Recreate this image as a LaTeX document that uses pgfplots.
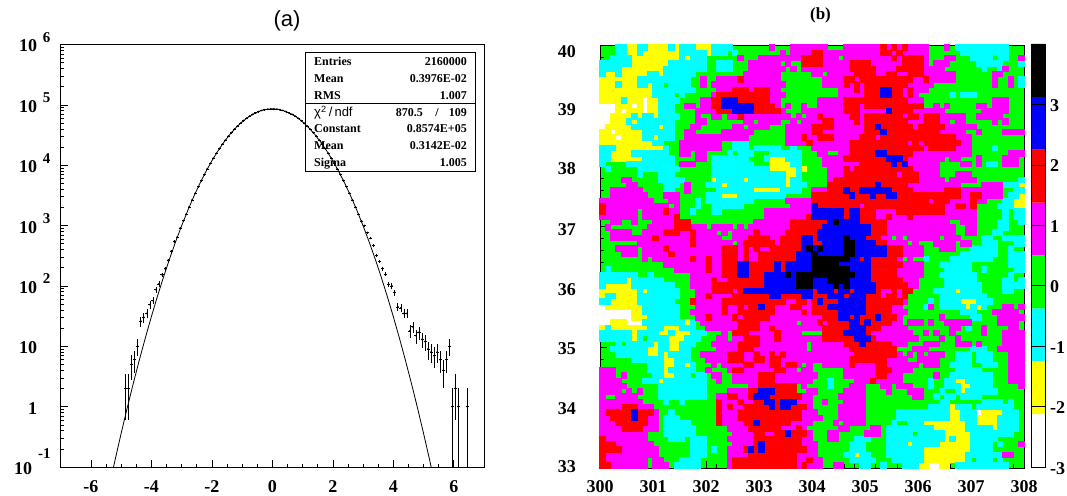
\documentclass[border=0pt]{standalone}
\usepackage{pgfplots}
\pgfplotsset{compat=1.18}
\usepackage{fontspec}
\setmainfont{Liberation Serif}
\newfontfamily\thinf{Liberation Sans}
\definecolor{cW}{rgb}{1,1,1}
\definecolor{cY}{rgb}{1,1,0}
\definecolor{cC}{rgb}{0,1,1}
\definecolor{cG}{rgb}{0,1,0}
\definecolor{cM}{rgb}{1,0,1}
\definecolor{cR}{rgb}{1,0,0}
\definecolor{cB}{rgb}{0,0,1}
\definecolor{cK}{rgb}{0,0,0}
\newcount\cx \newcount\cy
\cy=79
\expandafter\def\csname L0\endcsname{}
\expandafter\def\csname L1\endcsname{}
\expandafter\def\csname L2\endcsname{}
\expandafter\def\csname L4\endcsname{}
\expandafter\def\csname L5\endcsname{}
\expandafter\def\csname L6\endcsname{}
\expandafter\def\csname L7\endcsname{}
\def\addcell#1{\expandafter\xdef\csname L#1\endcsname{\csname L#1\endcsname(\the\numexpr30005+10*\cx\relax e-2,\the\numexpr3304375+8750*\cy\relax e-5)}}
\def\scan#1{\ifx#1\relax\else\ifnum#1=3 \else\addcell{#1}\fi\advance\cx by 1 \expandafter\scan\fi}
\def\R#1#2{\cx=0 \scan#1\relax\cx=40 \scan#2\relax\advance\cy by -1 }
% cell classes: 0 white 1 yellow 2 cyan 3 green 4 magenta 5 red 6 blue 7 black; top row first
\R{3332211221 1112122211 1222233333 3343334444}{4443334444 4445454544 4433343222 2222222333}
\R{3332211211 1111122222 1222323333 3333434444}{5544444444 4445545444 4433333322 2222222333}
\R{3322221111 1111121222 3333334333 4444444455}{5544434444 4444454555 5433344333 2222322334}
\R{2222221111 1112222222 3322233344 4444343355}{5544444555 5444444555 5434443333 3222223332}
\R{2222111111 1122222222 3322233344 4444434344}{4444444555 5544445555 5444433333 3323324333}
\R{2112111112 2122222233 3333333444 4444333333}{4434444455 5544554455 5444444333 3333443333}
\R{1111111222 2222222334 3344445444 4444333333}{3344445545 5555555554 4544444333 3333433432}
\R{1112111221 2232222334 3444444444 4444433333}{3344445454 5555555544 4443333333 3333433432}
\R{1111111111 2222222233 3344455545 5544333333}{3333344454 5556655454 4433333333 3333333333}
\R{1111111111 2222323333 3455555555 5544433333}{3333344444 5556655454 3333332322 2333333333}
\R{1111211101 1222233334 4556665555 5544333333}{3444445555 5555555544 4333333333 3333444333}
\R{0001110101 1222334434 4556666665 5554343343}{3444445554 5555555555 5334343333 3443444333}
\R{0001011101 1222333344 4455566665 5555433344}{4444445554 4444655554 4444433333 3344444333}
\R{0011112122 1222233343 3443445444 4444443434}{4544444554 5555555455 4555444443 3444443333}
\R{0011121222 2222333344 3333333443 4444334344}{4455444454 5555555544 4555443443 3333434333}
\R{0111112222 2122333443 3333344344 4433344444}{5555444444 5565555554 5555544444 4333333333}
\R{1101111122 2222334433 3334444443 3333344444}{5544444444 5556555555 5555444443 3433334444}
\R{1110111122 1222334444 4444444433 3333344454}{4555444445 5545555555 5555555444 3333333333}
\R{1111111111 2233344444 4443322233 3333344445}{4444444555 5555555545 4555555544 3333333333}
\R{2221111111 1123344444 4443322232 2222332333}{4444444555 5555555555 5455555444 3333233333}
\R{2211112222 2223344344 3333232223 3322222233}{3443344555 5566555554 4444444444 3333333444}
\R{2211111122 2222333344 3222222233 3211122233}{3344445555 5555666544 4444434433 3433334443}
\R{2333322222 2222344433 3222222223 3311112233}{3344444445 5555565644 4444333344 3432234443}
\R{3233333222 2222233333 3222222222 2211111213}{3334445455 5555555554 4444333333 3333333333}
\R{3333333233 3222333333 3222222222 2222211233}{3334445555 5555554555 4444333444 3333333333}
\R{3333443333 3222223333 3122222122 2222212233}{3334555555 5555555555 4444434444 4333333332}
\R{3333344333 3322234333 2221222222 2222212223}{3335555555 5565555544 4444444433 3344442221}
\R{3344444433 3322334333 3322222221 1111222233}{4445556556 6666655554 4444455544 4444443322}
\R{3344444443 3344433333 2221112222 2222233333}{5555555655 5655665555 5555555544 5544443221}
\R{4444444444 3334433323 2222222223 3333344444}{5555555555 5555555555 5545554444 5443332211}
\R{5444444444 4443433323 3222222333 3333334444}{6555555554 5555555555 5555544554 5333322211}
\R{5444444344 4454433233 3223333333 3444444444}{6666665665 5544445555 5555544444 4333332322}
\R{4444444344 4444533333 3333333333 3444444445}{6666665665 5544544454 4444444444 4333332322}
\R{3344334333 4444555333 3333333334 4444445555}{5556766665 5555444444 4444443344 4333322332}
\R{3433333334 4444555444 3444434344 4444445555}{5566666666 6555444444 4444444334 4333322333}
\R{3344443344 4455544544 4434344445 4444455555}{5666666666 6555444444 4444444334 4333223333}
\R{3344444444 5444444544 4443344455 5544555566}{5666667666 5554434344 4444344433 3322332222}
\R{3333333444 4444444544 4444434555 5554555566}{5566667766 6655444434 3334444344 3322233322}
\R{3334444344 4454444444 4445554545 4455555567}{6766667766 6666555444 4333444333 2222233233}
\R{3333444344 4445444444 4445554544 5555555666}{7666667766 6666555444 4333333322 2222233222}
\R{3333333343 4444444544 5445554544 5555555666}{7777777665 6555554343 3233332222 2222333222}
\R{3333333333 3344444444 5445556655 5556566666}{7777766666 6555555444 4333222222 3333333222}
\R{3233333333 3333444444 5445556655 5556566666}{7777777666 6555554444 4333322222 3323333322}
\R{2222222332 3333333444 4445556655 5666676777}{7777777766 6555554444 4333222222 2333333233}
\R{2222212222 2233333444 4544555555 5666666777}{6667777666 6555555444 3333322222 2333332232}
\R{2111112222 2222333444 4555555555 5666666777}{6666767666 6655555544 3333322222 2233332222}
\R{1111111212 2222233344 4555545666 6666666666}{5666566566 6654454553 3332222122 2233332233}
\R{1221111222 2222233344 5444455555 5566555566}{5556665666 5554554533 3333222222 2223333333}
\R{2211111222 2222333544 4445555555 5555544554}{5655566666 5555555433 3323222211 1222333333}
\R{0111111122 2222233344 4445445455 6554445544}{5556666666 5555544333 3243222221 2123334434}
\R{0000001122 2222233444 4445445555 5554444454}{5555566666 5555544433 3333333322 2333444443}
\R{0000001112 2222233344 5444454555 5544444444}{4455566565 5565554333 3333433333 2233344444}
\R{0011100022 2222221234 4444445555 4444444344}{4545555665 6555544344 4343344444 3333344443}
\R{1211111112 2211122233 4444445555 4454444444}{4455555666 5554444433 3333334432 3343333443}
\R{2222221222 2112111222 3334355544 4445444433}{3355556666 5444444443 3434334333 3343334444}
\R{2222221232 2221112223 3344344555 4445444444}{4455555566 6544444444 3333433433 3333334444}
\R{3332322222 1221122233 3444445555 4444444443}{4444445556 5555544433 3444333444 3433334444}
\R{3322222221 1221122333 3344445554 4444444443}{4444444555 5555553334 4433333333 2223344444}
\R{3332222221 1212222334 4444555445 4454544444}{4444444455 5555554343 4344433222 3222333444}
\R{3333332222 2211222333 4444555445 5455444444}{4444444555 5555444433 4444333222 3222333444}
\R{3333333332 2211221233 3434444554 4455455434}{3344444544 4455444444 3444332222 3322233444}
\R{4443333332 2212222233 4333455444 4445544344}{3333334444 4455544443 3333333222 2233333444}
\R{4443433333 2211222322 3443344444 5554444444}{4333334444 4455444333 3334332222 2222333444}
\R{4444333322 2122222222 3343344444 5554444444}{3332333344 4544444333 3323322112 2222333444}
\R{4444433333 3222222222 3333333344 5555555343}{3332333444 3334434443 3323322211 2222333334}
\R{4444343433 3222222222 3333444455 6665555334}{4333334444 3333433344 4333233212 2222233333}
\R{4334444333 3222222222 3344554456 6655555544}{3333344444 3333333334 4332322322 2233333333}
\R{4444444433 3323323333 3354445445 5665666444}{3343334444 3333333333 3333223333 3322223233}
\R{4444555444 3333333333 3354544555 5565665554}{3333344444 3333333333 3322221222 3222222233}
\R{4555556555 4332333333 3354445555 5555555544}{4333344444 3333332222 2222221122 2011112223}
\R{4455556554 4322233333 3354445555 5555555544}{4433344444 3333332222 2222221122 2111122223}
\R{4445555554 4322222333 3354444556 5555554444}{3333434444 3333323322 2111111112 2111122223}
\R{4444555544 4322222233 3333444455 5555444543}{3333344333 3443222222 2221111112 2222122223}
\R{4444444443 3322222233 3333344445 5445565554}{3334433333 4443222223 2222211111 2222222233}
\R{5444444443 3332223222 3333444445 5555555544}{3334433322 2333222222 2222212111 2222233333}
\R{5554444444 3333333222 3333344445 6555555544}{4333333222 3333222212 2222111111 2222323334}
\R{5555444444 4333333222 3233444565 6555555554}{4333333222 3333222222 2111111111 2222333333}
\R{5444444444 4333333222 3333444455 5555555444}{4333332212 2333222222 2111111112 2222224433}
\R{5444444443 4433322223 3333455555 5555555445}{4433333222 2233322222 2111111112 3222323333}
\R{5544444443 4443222223 3333455555 5555555454}{4433443332 2332333222 1100113222 2222222333}
\newcommand\cellplot[2]{\edef\temp{\noexpand\addplot[cell,color=#2,mark options={draw=#2,fill=#2,line width=0pt}] coordinates {\csname L#1\endcsname};}\temp}
\newcommand\tl[1]{10\hspace{6pt}\raisebox{9.5pt}{\fontsize{15}{15}\selectfont #1}}
\newcommand\tlp{\hspace{6pt}\phantom{\fontsize{15}{15}\selectfont 0}}
\begin{document}
\begin{tikzpicture}[x=1pt,y=1pt]
\path[use as bounding box] (0,0) rectangle (1067,495);
\begin{axis}[name=a, at={(60.7pt,28pt)}, anchor=south west, scale only axis, width=423.3pt, height=422.5pt,
 xmin=-7, xmax=7, ymode=log, ymin=0.1, ymax=1e6,
 tick pos=left, tick align=inside, major tick length=7pt, minor tick length=3.5pt,
 axis line style={line width=.8pt}, tick style={line width=.6pt,black},
 xtick={-6,-4,-2,0,2,4,6}, xticklabels={-6,-4,-2,0,2,4,6}, minor x tick num=3,
 ytick={0.1,1,10,100,1000,10000,100000,1000000},
 yticklabels={10\hspace{6pt}\raisebox{16pt}{\fontsize{15}{15}\selectfont -1},1\tlp,10\tlp,\tl{2},\tl{3},\tl{4},\tl{5},\tl{6}},
 tick label style={font=\bfseries\fontsize{18}{18}\selectfont, inner sep=0pt},
 xticklabel style={anchor=base, yshift=-25.5pt},
 yticklabel style={anchor=base east, xshift=-10pt, yshift=-7.5pt},
]
\addplot[black,line width=.8pt] coordinates {(-5.4,0.046)(-5.2,0.132)(-5.0,0.362)(-4.8,0.955)(-4.6,2.42)(-4.4,5.90)(-4.2,13.8)(-4.0,31.1)(-3.8,67.4)(-3.6,140.3)(-3.4,280.6)(-3.2,539)(-3.0,995)(-2.8,1768)(-2.6,3017)(-2.4,4953)(-2.2,7807)(-2.0,11833)(-1.8,17242)(-1.6,24146)(-1.4,32494)(-1.2,42030)(-1.0,52265)(-0.8,62460)(-0.6,71750)(-0.4,79217)(-0.2,84058)(0,85740)(0.2,84058)(0.4,79217)(0.6,71750)(0.8,62460)(1.0,52265)(1.2,42030)(1.4,32494)(1.6,24146)(1.8,17242)(2.0,11833)(2.2,7807)(2.4,4953)(2.6,3017)(2.8,1768)(3.0,995)(3.2,539)(3.4,280.6)(3.6,140.3)(3.8,67.4)(4.0,31.1)(4.2,13.8)(4.4,5.90)(4.6,2.42)(4.8,0.955)(5.0,0.362)(5.2,0.132)(5.4,0.046)};
\addplot[only marks, mark=*, mark size=.7pt, black,
 error bars/.cd, y dir=both, y explicit, x dir=both, x fixed=0.05, error mark=none,
 error bar style={line width=.7pt,black}] coordinates {
 (-4.85,2) +- (0,1.41) (-4.75,2) +- (0,1.41) (-4.65,5) +- (0,2.24) (-4.55,6) +- (0,2.45) (-4.45,10) +- (0,3.16)
 (-4.35,26) +- (0,5.1) (-4.25,30) +- (0,5.5) (-4.15,35) +- (0,5.9) (-4.05,49) +- (0,7) (-3.95,57) +- (0,7.5)
 (-3.85,87) +- (0,9.3) (-3.75,108) +- (0,10.4) (-3.65,154) +- (0,12.4) (-3.55,193) +- (0,13.9) (-3.45,265) +- (0,16.3)
 (-3.35,376) +- (0,19.4) (-3.25,545) +- (0,23) (-3.15,642) +- (0,25) (-3.05,904) +- (0,30) (-2.95,1209) +- (0,35)
 (-2.85,1539) +- (0,39) (-2.75,2029) +- (0,45) (-2.65,2653) +- (0,52) (-2.55,3433) +- (0,59) (-2.45,4395) +- (0,66)
 (-2.35,5570) +- (0,75) (-2.25,7000) +- (0,84) (-2.15,8700) +- (0,93) (-2.05,10710) +- (0,103) (-1.95,13050) +- (0,114)
 (-1.85,15760) +- (0,126) (-1.75,18840) +- (0,137) (-1.65,22270) +- (0,149) (-1.55,26110) +- (0,162) (-1.45,30290) +- (0,174)
 (-1.35,34790) +- (0,187) (-1.25,39550) +- (0,199) (-1.15,44540) +- (0,211) (-1.05,49690) +- (0,223) (-0.95,54840) +- (0,234)
 (-0.85,59970) +- (0,245) (-0.75,64900) +- (0,255) (-0.65,69560) +- (0,264) (-0.55,73813) +- (0,272) (-0.45,77560) +- (0,278)
 (-0.35,80700) +- (0,284) (-0.25,83130) +- (0,288) (-0.15,84790) +- (0,291) (-0.05,85634) +- (0,293)
 (0.05,85634) +- (0,293) (0.15,84790) +- (0,291) (0.25,83130) +- (0,288) (0.35,80700) +- (0,284) (0.45,77560) +- (0,278)
 (0.55,73813) +- (0,272) (0.65,69560) +- (0,264) (0.75,64900) +- (0,255) (0.85,59970) +- (0,245) (0.95,54840) +- (0,234)
 (1.05,49690) +- (0,223) (1.15,44540) +- (0,211) (1.25,39550) +- (0,199) (1.35,34790) +- (0,187) (1.45,30290) +- (0,174)
 (1.55,26110) +- (0,162) (1.65,22270) +- (0,149) (1.75,18840) +- (0,137) (1.85,15760) +- (0,126) (1.95,13050) +- (0,114)
 (2.05,10710) +- (0,103) (2.15,8700) +- (0,93) (2.25,7000) +- (0,84) (2.35,5570) +- (0,75) (2.45,4395) +- (0,66)
 (2.55,3433) +- (0,59) (2.65,2653) +- (0,52) (2.75,2029) +- (0,45) (2.85,1539) +- (0,39) (2.95,1180) +- (0,34)
 (3.05,1000) +- (0,32) (3.15,766) +- (0,28) (3.25,618) +- (0,25) (3.35,468) +- (0,22) (3.45,318) +- (0,18) (3.55,256) +- (0,16)
 (3.65,193) +- (0,14) (3.75,156) +- (0,12.5) (3.85,106) +- (0,10.3) (3.95,100) +- (0,10) (4.05,78) +- (0,8.8)
 (4.15,45) +- (0,6.7) (4.25,43) +- (0,6.6) (4.35,35) +- (0,5.9) (4.45,35) +- (0,5.9) (4.55,18) +- (0,4.2) (4.65,21) +- (0,4.6)
 (4.75,15) +- (0,3.9) (4.85,17) +- (0,4.1) (4.95,13) +- (0,3.6) (5.05,12) +- (0,3.5) (5.15,9) +- (0,3) (5.25,8) +- (0,2.8)
 (5.35,7) +- (0,2.6) (5.45,8) +- (0,2.8) (5.55,6) +- (0,2.45) (5.65,4) +- (0,2) (5.75,6) +- (0,2.45) (5.85,10) +- (0,3.16)
 (5.95,1) += (0,1) -= (0,0.9) (6.05,2) += (0,1.41) -= (0,1.41) (6.15,1) += (0,1) -= (0,0.9) (6.45,1) += (0,1) -= (0,0.9)
};
\end{axis}
\begin{axis}[name=b, at={(600pt,27pt)}, anchor=south west, scale only axis, width=424pt, height=423pt,
 xmin=300, xmax=308, ymin=33, ymax=40, axis on top,
 axis background/.style={fill=cG},
 tick pos=left, tick align=inside, major tick length=7pt, minor tick length=3.5pt,
 axis line style={line width=.8pt}, tick style={line width=.6pt,black},
 xtick={300,...,308}, xticklabels={300,301,302,303,304,305,306,307,308}, minor x tick num=4,
 ytick={33,...,40}, minor y tick num=4,
 yticklabels={\raisebox{-4.5pt}{33},\raisebox{-6.9pt}{34},\raisebox{-7.5pt}{35},\raisebox{-8.8pt}{36},\raisebox{-9.5pt}{37},\raisebox{-9pt}{38},\raisebox{-10.1pt}{39},\raisebox{-12.2pt}{40}},
 tick label style={font=\bfseries\fontsize{18}{18}\selectfont, inner sep=0pt},
 xticklabel style={anchor=base, yshift=-24.5pt},
 yticklabel style={anchor=base east, xshift=-24pt},
 cell/.style={only marks, mark=square*, mark size=2.72pt, forget plot},
]
\cellplot{0}{cW}
\cellplot{1}{cY}
\cellplot{2}{cC}
\cellplot{4}{cM}
\cellplot{5}{cR}
\cellplot{6}{cB}
\cellplot{7}{cK}
\end{axis}
\begin{axis}[name=c, at={(1031pt,28pt)}, anchor=south west, scale only axis, width=14pt, height=423pt,
 xmin=0, xmax=1, ymin=-3, ymax=4, axis on top,
 xtick=\empty, ytick={-3,...,3}, yticklabels={-3,-2,-1,0,1,2,3},
 ymajorticks=true, tick align=inside, yticklabel pos=right, tick pos=right,
 major tick length=14pt, tick style={line width=.5pt,black}, axis line style={line width=.8pt},
 tick label style={font=\bfseries\fontsize{18}{18}\selectfont, inner sep=0pt},
 yticklabel style={anchor=base west, xshift=5pt, yshift=-7pt},
]
\addplot[fill=cW,draw=none] coordinates {(0,-3)(1,-3)(1,-2.125)(0,-2.125)} \closedcycle;
\addplot[fill=cY,draw=none] coordinates {(0,-2.125)(1,-2.125)(1,-1.25)(0,-1.25)} \closedcycle;
\addplot[fill=cC,draw=none] coordinates {(0,-1.25)(1,-1.25)(1,-0.375)(0,-0.375)} \closedcycle;
\addplot[fill=cG,draw=none] coordinates {(0,-0.375)(1,-0.375)(1,0.5)(0,0.5)} \closedcycle;
\addplot[fill=cM,draw=none] coordinates {(0,0.5)(1,0.5)(1,1.375)(0,1.375)} \closedcycle;
\addplot[fill=cR,draw=none] coordinates {(0,1.375)(1,1.375)(1,2.25)(0,2.25)} \closedcycle;
\addplot[fill=cB,draw=none] coordinates {(0,2.25)(1,2.25)(1,3.125)(0,3.125)} \closedcycle;
\addplot[fill=cK,draw=none] coordinates {(0,3.125)(1,3.125)(1,4)(0,4)} \closedcycle;
\end{axis}
% stats box
\draw[line width=1.3pt] (305.7,323.7) rectangle (475.3,442.3);
\draw[line width=1.3pt] (305.7,391.3) -- (475.3,391.3);
\begin{scope}[every node/.style={inner sep=0pt,font=\bfseries\fontsize{12}{12}\selectfont}]
\node[anchor=base west] at (314,429) {Entries};
\node[anchor=base east] at (467,429) {2160000};
\node[anchor=base west] at (314,412) {Mean};
\node[anchor=base east] at (467,412) {0.3976E-02};
\node[anchor=base west] at (314,395) {RMS};
\node[anchor=base east] at (467,395) {1.007};
\node[anchor=base west] at (314,378) {{\thinf\mdseries\fontsize{13}{13}\selectfont χ\textsuperscript{2}\,/\,ndf}};
\node[anchor=base east] at (423,378) {870.5};
\node[anchor=base] at (437,378) {/};
\node[anchor=base east] at (467,378) {109};
\node[anchor=base west] at (314,362) {Constant};
\node[anchor=base east] at (467,362) {0.8574E+05};
\node[anchor=base west] at (314,345) {Mean};
\node[anchor=base east] at (467,345) {0.3142E-02};
\node[anchor=base west] at (314,328) {Sigma};
\node[anchor=base east] at (467,328) {1.005};
\end{scope}
\node[inner sep=0pt,font=\thinf\fontsize{22}{22}\selectfont] at (287,474) {(a)};
\node[inner sep=0pt,font=\bfseries\fontsize{17}{17}\selectfont] at (820.5,480) {(b)};
\end{tikzpicture}
\end{document}
